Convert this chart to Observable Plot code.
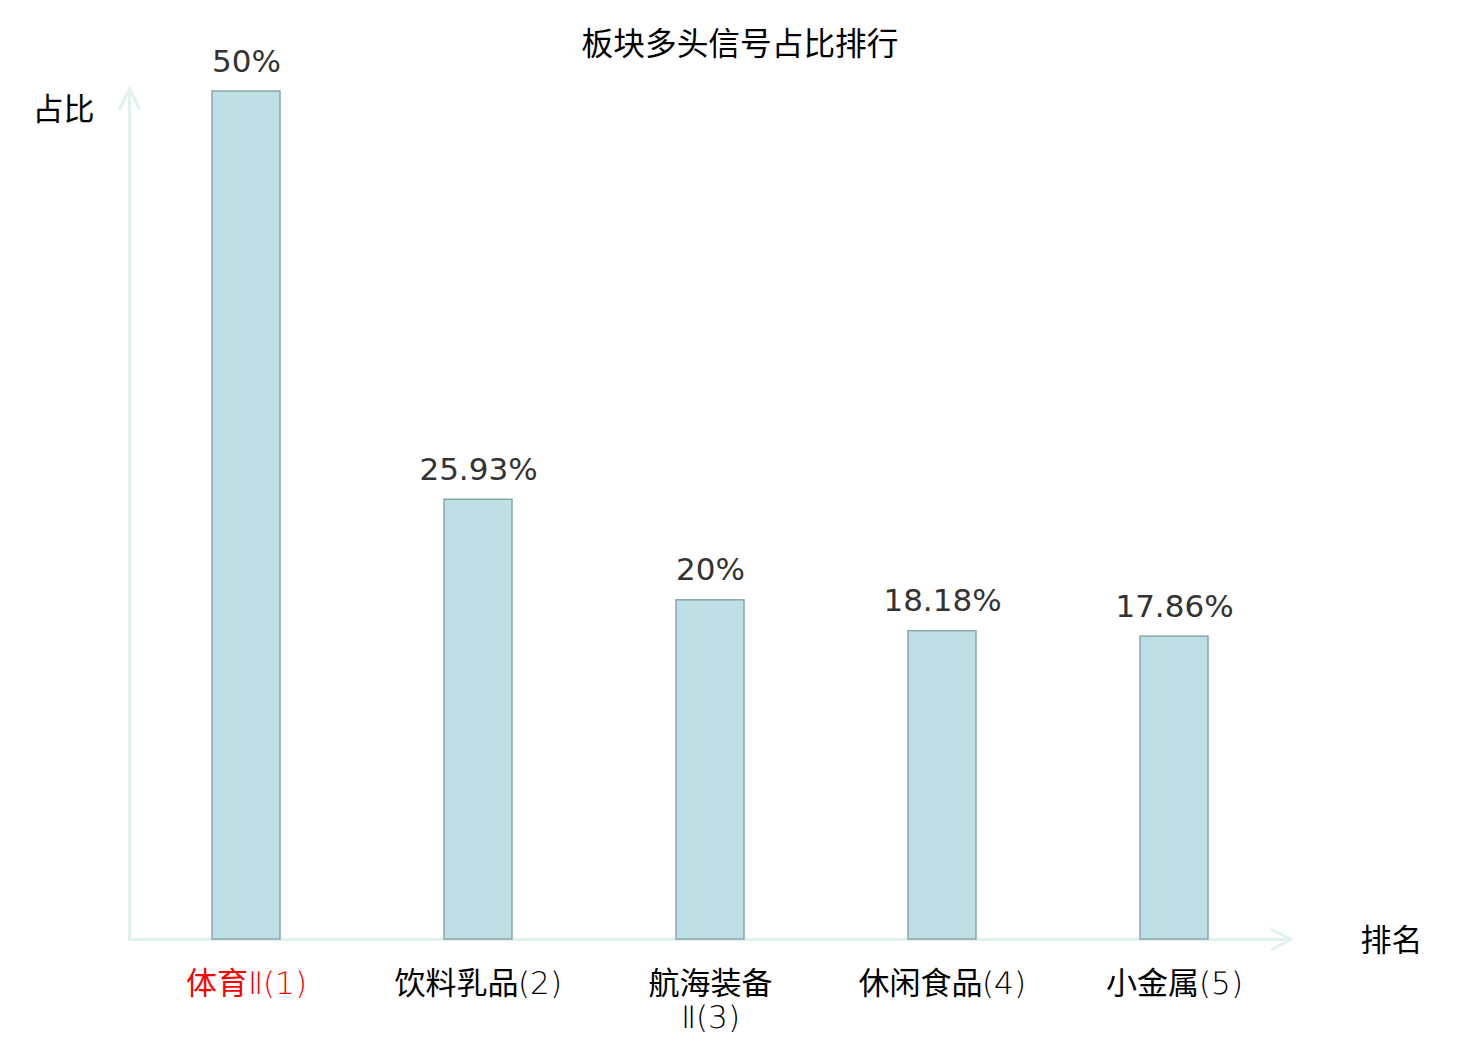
<!DOCTYPE html>
<html>
<head>
<meta charset="utf-8">
<script src="https://cdn.jsdelivr.net/npm/d3@7"></script>
<script src="https://cdn.jsdelivr.net/npm/@observablehq/plot@0.6"></script>
<style>
  @font-face { font-family: "LatinThin"; src: local("DejaVu Sans ExtraLight"), local("DejaVuSans-ExtraLight"); }
  html, body { margin: 0; padding: 0; background: #fff; }
  #title { height: 40px; overflow: visible; box-sizing: border-box; padding-top: 26px;
           font: 31.7px "Noto Sans CJK SC", sans-serif; line-height: 1; text-align: center; color: #000; }
  #chart svg { display: block; }
</style>
</head>
<body>
<div id="title">板块多头信号占比排行</div>
<div id="chart"></div>
<script>
const categories = ["体育Ⅱ", "饮料乳品", "航海装备Ⅱ", "休闲食品", "小金属"];
const values = [50, 25.93, 20, 18.18, 17.86];
const valueLabels = ["50%", "25.93%", "20%", "18.18%", "17.86%"];
const tickLabels = ["体育Ⅱ(1)", "饮料乳品(2)", "航海装备\nⅡ(3)", "休闲食品(4)", "小金属(5)"];
const tickColors = ["#ff0000", "#000000", "#000000", "#000000", "#000000"];
const yTitle = "占比";
const xTitle = "排名";

const data = categories.map((c, i) => ({
  category: c, value: values[i], label: valueLabels[i], tick: tickLabels[i], color: tickColors[i]
}));

const W = 1480, H = 1000;
const mL = 130, mR = 190, mT = 51, mB = 101;
const cjk = "'Noto Sans CJK SC', sans-serif";

function draw() {
const plot = Plot.plot({
  width: W, height: H,
  marginLeft: mL, marginRight: mR, marginTop: mT, marginBottom: mB,
  x: { domain: categories, paddingInner: 0.707, paddingOuter: 0.3535, axis: null },
  y: { domain: [0, 50], axis: null },
  color: { type: "identity" },
  marks: [
    Plot.barY(data, { x: "category", y: "value", fill: "#bce0e3", stroke: "#8aa6a7", strokeWidth: 1.5, inset: 0 }),
    Plot.text(data, { x: "category", y: "value", text: "label", lineAnchor: "bottom", dy: -20,
      fontSize: 31, fontFamily: "'DejaVu Sans', sans-serif", fill: "#333333" }),
    Plot.text(data, { x: "category", text: "tick", frameAnchor: "bottom", lineAnchor: "top", dy: 30,
      fontSize: 31, fontFamily: "'LatinThin', 'Noto Sans CJK SC', sans-serif", fill: "color", lineHeight: 1.1 }),
    Plot.text([yTitle], { frameAnchor: "top-left", dx: -67, dy: 19, lineAnchor: "middle", textAnchor: "middle",
      fontSize: 31, fontFamily: cjk, fill: "#000" }),
    Plot.text([xTitle], { frameAnchor: "bottom-right", dx: 101, dy: 2, lineAnchor: "middle", textAnchor: "middle",
      fontSize: 31, fontFamily: cjk, fill: "#000" })
  ]
});

// custom arrow axes drawn from the plot's scales
const ys = plot.scale("y");
const xs = plot.scale("x");
const y0 = ys.apply(0);
const yTop = ys.apply(50) - 2;
const xStart = xs.range[0] - 1;
const xEnd = xs.range[1] + 1;
const svg = d3.select(plot);
const g = svg.insert("g", ":first-child")
  .attr("fill", "none").attr("stroke", "#dff2ef").attr("stroke-width", 3)
  .attr("stroke-linecap", "butt");
g.append("line").attr("x1", xStart).attr("y1", y0 + 0.5).attr("x2", xEnd).attr("y2", y0 + 0.5);
g.append("polyline").attr("points", `${xEnd - 20},${y0 - 10} ${xEnd},${y0 + 0.5} ${xEnd - 20},${y0 + 11}`);
g.append("line").attr("x1", xStart + 0.5).attr("y1", y0 + 2).attr("x2", xStart + 0.5).attr("y2", yTop);
g.append("polyline").attr("points", `${xStart - 10},${yTop + 21} ${xStart + 0.5},${yTop} ${xStart + 11},${yTop + 21}`);

document.getElementById("chart").appendChild(plot);
}
draw();
</script>
</body>
</html>
